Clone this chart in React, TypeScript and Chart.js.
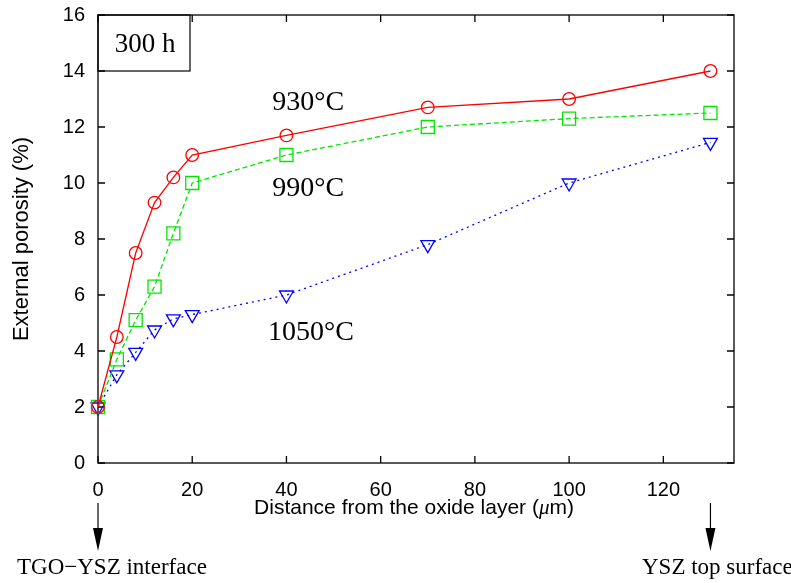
import React, { useEffect, useRef } from "react";
import { Chart, registerables } from "chart.js";

Chart.register(...registerables);

// ---- data ----
const distances = [0, 4, 8, 12, 16, 20, 40, 70, 100, 130];
const porosity930 = [2, 4.5, 7.5, 9.3, 10.2, 11, 11.7, 12.7, 13, 14];
const porosity990 = [2, 3.7, 5.1, 6.3, 8.2, 10, 11, 12, 12.3, 12.5];
const porosity1050 = [2, 3.15, 3.95, 4.75, 5.15, 5.3, 6, 7.8, 10, 11.45];
const seriesNames = ["930°C", "990°C", "1050°C"];
const xTickValues = [0, 20, 40, 60, 80, 100, 120];
const yTickValues = [0, 2, 4, 6, 8, 10, 12, 14, 16];
// label anchors in data coordinates (x, baseline y)
const labelX = [44.6, 44.6, 45.2];
const labelY = [12.6, 9.55, 4.4];
const boxLabel = "300 h";
const xTitle = ["Distance from the oxide layer (", "μ", "m)"];
const yTitle = "External porosity (%)";
const leftNote = "TGO−YSZ interface";
const rightNote = "YSZ top surface";
const leftNoteAt = 0;
const rightNoteAt = 130;

const RED = "#ff0000";
const GREEN = "#00e600";
const BLUE = "#0000ff";

const decorPlugin = {
  id: "decor",
  beforeDatasetsDraw(chart: any) {
    const { ctx, chartArea: a, scales } = chart;
    const xs = scales.x;
    const ys = scales.y;
    ctx.save();
    ctx.strokeStyle = "#000";
    ctx.lineWidth = 1.3;
    ctx.strokeRect(a.left, a.top, a.right - a.left, a.bottom - a.top);
    const t = 7;
    ctx.beginPath();
    for (const v of yTickValues) {
      const y = ys.getPixelForValue(v);
      ctx.moveTo(a.left, y);
      ctx.lineTo(a.left + t, y);
      ctx.moveTo(a.right, y);
      ctx.lineTo(a.right - t, y);
    }
    for (const v of xTickValues) {
      const x = xs.getPixelForValue(v);
      ctx.moveTo(x, a.bottom);
      ctx.lineTo(x, a.bottom - t);
      ctx.moveTo(x, a.top);
      ctx.lineTo(x, a.top + t);
    }
    ctx.stroke();

    // "300 h" box
    ctx.lineWidth = 1.2;
    ctx.strokeRect(a.left, a.top, 92, 56);
    ctx.fillStyle = "#000";
    ctx.font = '27px "Liberation Serif"';
    ctx.textAlign = "center";
    ctx.textBaseline = "alphabetic";
    ctx.fillText(boxLabel, a.left + 47, a.top + 37);
    ctx.restore();
  },
  afterDraw(chart: any) {
    const { ctx, chartArea: a, scales } = chart;
    const xs = scales.x;
    const ys = scales.y;
    ctx.save();
    ctx.fillStyle = "#000";
    ctx.textBaseline = "alphabetic";
    // series labels
    ctx.font = '28px "Liberation Serif"';
    ctx.textAlign = "center";
    seriesNames.forEach((n, i) => {
      ctx.fillText(n, xs.getPixelForValue(labelX[i]), ys.getPixelForValue(labelY[i]));
    });

    // x title with italic mu
    const f1 = '21px "Liberation Sans"';
    const f2 = 'italic 21px "Liberation Serif"';
    ctx.font = f1;
    const w0 = ctx.measureText(xTitle[0]).width;
    const w2 = ctx.measureText(xTitle[2]).width;
    ctx.font = f2;
    const w1 = ctx.measureText(xTitle[1]).width;
    const total = w0 + w1 + w2;
    let x = (a.left + a.right) / 2 - 2 - total / 2;
    const by = a.bottom + 51;
    ctx.textAlign = "left";
    ctx.font = f1;
    ctx.fillText(xTitle[0], x, by);
    x += w0;
    ctx.font = f2;
    ctx.fillText(xTitle[1], x, by);
    x += w1;
    ctx.font = f1;
    ctx.fillText(xTitle[2], x, by);

    // arrows
    const arrow = (px: number) => {
      ctx.strokeStyle = "#000";
      ctx.lineWidth = 1.2;
      ctx.beginPath();
      ctx.moveTo(px, 503);
      ctx.lineTo(px, 532);
      ctx.stroke();
      ctx.beginPath();
      ctx.moveTo(px - 5, 528);
      ctx.lineTo(px + 5, 528);
      ctx.lineTo(px, 551);
      ctx.closePath();
      ctx.fill();
    };
    const lx = xs.getPixelForValue(leftNoteAt);
    const rx = xs.getPixelForValue(rightNoteAt);
    arrow(lx);
    arrow(rx);
    ctx.font = '23px "Liberation Serif"';
    ctx.textAlign = "left";
    ctx.fillText(leftNote, 17, 574);
    ctx.fillText(rightNote, 642, 574);
    ctx.restore();
  },
};

export default function App() {
  const ref = useRef<HTMLCanvasElement | null>(null);
  useEffect(() => {
    if (!ref.current) return;
    const mk = (vals: number[]) => distances.map((d, i) => ({ x: d, y: vals[i] }));
    const chart = new Chart(ref.current, {
      type: "line",
      data: {
        datasets: [
          {
            label: seriesNames[0],
            data: mk(porosity930),
            borderColor: RED,
            borderWidth: 1.3,
            pointStyle: "circle",
            pointRadius: 6.3,
            pointBorderColor: RED,
            pointBackgroundColor: "rgba(0,0,0,0)",
            pointBorderWidth: 1.3,
            fill: false,
            tension: 0,
            clip: false,
          },
          {
            label: seriesNames[1],
            data: mk(porosity990),
            borderColor: GREEN,
            borderWidth: 1.3,
            borderDash: [5, 3],
            pointStyle: "rect",
            pointRadius: 9.2,
            pointBorderColor: GREEN,
            pointBackgroundColor: "rgba(0,0,0,0)",
            pointBorderWidth: 1.3,
            fill: false,
            tension: 0,
            clip: false,
          },
          {
            label: seriesNames[2],
            data: mk(porosity1050),
            borderColor: BLUE,
            borderWidth: 1.3,
            borderDash: [2, 4],
            pointStyle: "triangle",
            pointRotation: 180,
            pointRadius: 8,
            pointBorderColor: BLUE,
            pointBackgroundColor: "rgba(0,0,0,0)",
            pointBorderWidth: 1.3,
            fill: false,
            tension: 0,
            clip: false,
          },
        ] as any,
      },
      options: {
        animation: false,
        responsive: false,
        devicePixelRatio: 1,
        layout: { padding: { left: 0, right: 57, top: 15, bottom: 0 } },
        plugins: { legend: { display: false }, tooltip: { enabled: false } },
        scales: {
          x: {
            type: "linear",
            min: 0,
            max: 135,
            grid: { display: false, drawTicks: false },
            border: { display: false },
            afterFit: (s: any) => {
              s.height = 120;
              s.paddingLeft = 0;
              s.paddingRight = 0;
            },
            afterBuildTicks: (s: any) => {
              s.ticks = xTickValues.map((v) => ({ value: v }));
            },
            ticks: {
              padding: 15,
              color: "#000",
              font: { family: "Liberation Sans", size: 20 },
              maxRotation: 0,
            },
          },
          y: {
            type: "linear",
            min: 0,
            max: 16,
            grid: { display: false, drawTicks: false },
            border: { display: false },
            afterFit: (s: any) => {
              s.width = 98;
              s.paddingTop = 0;
              s.paddingBottom = 0;
            },
            afterBuildTicks: (s: any) => {
              s.ticks = yTickValues.map((v) => ({ value: v }));
            },
            ticks: {
              padding: 13,
              color: "#000",
              font: { family: "Liberation Sans", size: 20 },
            },
            title: {
              display: true,
              text: yTitle,
              color: "#000",
              font: { family: "Liberation Sans", size: 22 },
              padding: { top: 9, bottom: 0 },
            },
          },
        },
      } as any,
      plugins: [decorPlugin],
    });
    return () => chart.destroy();
  }, []);
  return (
    <div style={{ position: "absolute", left: 0, top: 0, width: 791, height: 583, background: "#fff" }}>
      <canvas ref={ref} width={791} height={583} style={{ width: 791, height: 583, display: "block" }} />
    </div>
  );
}
